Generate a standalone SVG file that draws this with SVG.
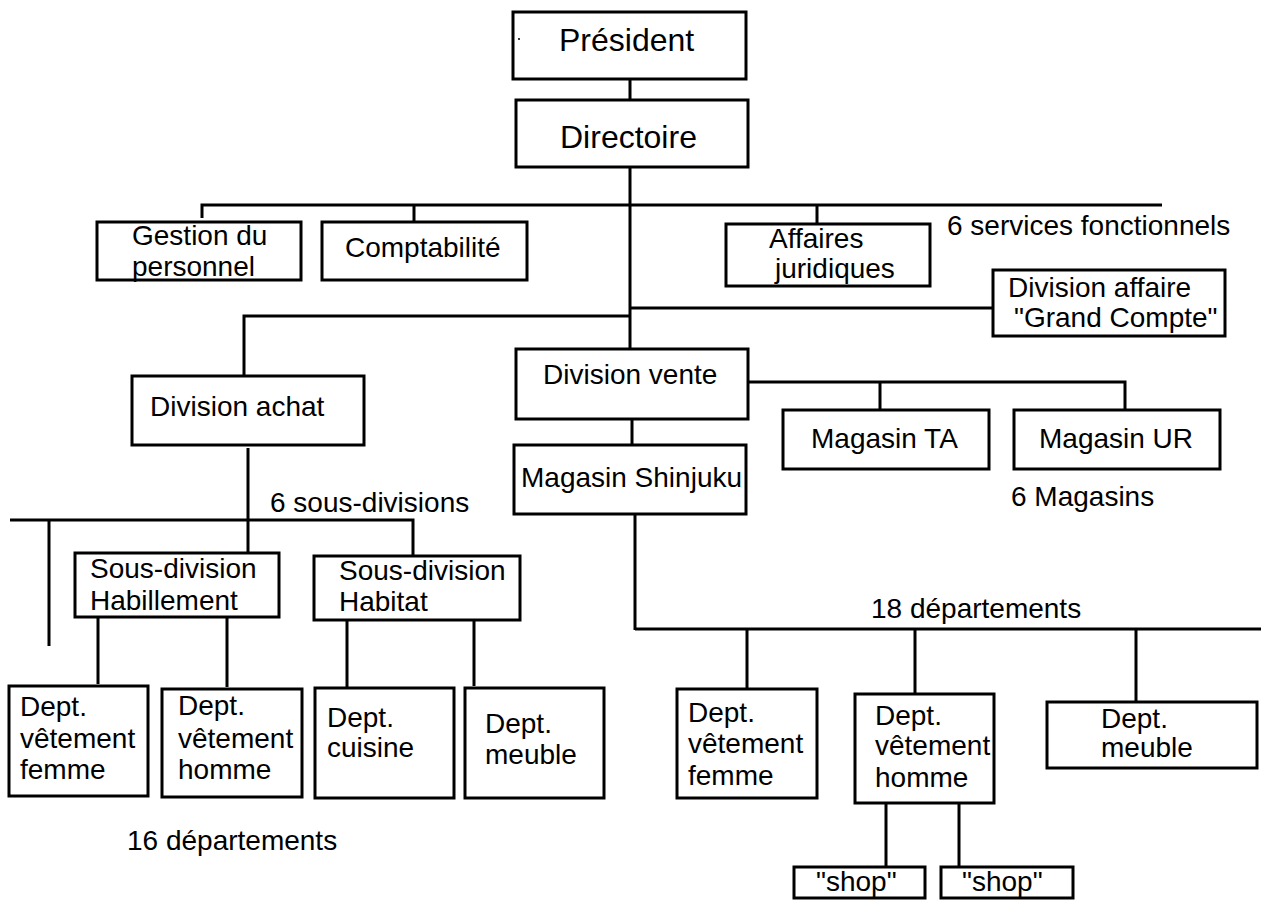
<svg xmlns="http://www.w3.org/2000/svg" width="1261" height="900" viewBox="0 0 1261 900">
<style>
.b{fill:#fff;stroke:#000;stroke-width:3}
.l{stroke:#000;stroke-width:3;fill:none}
text{font-family:"Liberation Sans",Arial,sans-serif;font-size:28px;fill:#000}
.big{font-size:32px}
</style>
<rect width="1261" height="900" fill="#fff"/>
<g id="connectors">
<path class="l" d="M630 79V100M630 167V349"/>
<path class="l" d="M202 218V205H1162M414 205V222M817 205V224"/>
<path class="l" d="M630 308H993M244 378V316H630"/>
<path class="l" d="M748 382H1125V410M880 382V410M632 419V446"/>
<path class="l" d="M248 448V553M10 520H413V556M49 520V646"/>
<path class="l" d="M98 614V684M227 614V687M347 618V688M474 615V686"/>
<path class="l" d="M635 514V630M635 629H1261M747 629V689M915 629V694M1136 629V702"/>
<path class="l" d="M886 803V867M959 803V867"/>
</g>
<g id="president"><rect class="b" x="513" y="12" width="233" height="67"/><circle cx="519" cy="39" r="1" fill="#000"/><text class="big" x="559" y="51">Président</text></g>
<g id="directoire"><rect class="b" x="516" y="100" width="232" height="67"/><text class="big" x="560" y="148">Directoire</text></g>
<g id="gestion"><rect class="b" x="97" y="222" width="204" height="58"/><text x="132" y="245">Gestion du</text><text x="132" y="276">personnel</text></g>
<g id="comptabilite"><rect class="b" x="322" y="222" width="205" height="58"/><text x="345" y="257">Comptabilité</text></g>
<g id="affaires"><rect class="b" x="726" y="224" width="204" height="62"/><text x="769" y="248">Affaires</text><text x="775" y="278">juridiques</text></g>
<g id="services-label"><text x="947" y="235">6 services fonctionnels</text></g>
<g id="grand-compte"><rect class="b" x="993" y="270" width="232" height="66"/><text x="1008" y="297">Division affaire</text><text x="1014" y="327">"Grand Compte"</text></g>
<g id="achat"><rect class="b" x="132" y="376" width="232" height="69"/><text x="150" y="416">Division achat</text></g>
<g id="vente"><rect class="b" x="516" y="349" width="232" height="70"/><text x="543" y="384">Division vente</text></g>
<g id="magasin-ta"><rect class="b" x="783" y="410" width="206" height="59"/><text x="811" y="448">Magasin TA</text></g>
<g id="magasin-ur"><rect class="b" x="1014" y="410" width="206" height="59"/><text x="1039" y="448">Magasin UR</text></g>
<g id="magasins-label"><text x="1011" y="506">6 Magasins</text></g>
<g id="shinjuku"><rect class="b" x="514" y="445" width="232" height="69"/><text x="521" y="487">Magasin Shinjuku</text></g>
<g id="sousdiv-label"><text x="270" y="512">6 sous-divisions</text></g>
<g id="habillement"><rect class="b" x="75" y="553" width="204" height="64"/><text x="90" y="578">Sous-division</text><text x="90" y="610">Habillement</text></g>
<g id="habitat"><rect class="b" x="314" y="556" width="206" height="64"/><text x="339" y="580">Sous-division</text><text x="339" y="611">Habitat</text></g>
<g id="dept-label-18"><text x="871" y="618">18 départements</text></g>
<g id="d1"><rect class="b" x="9" y="686" width="139" height="110"/><text x="20" y="716">Dept.</text><text x="20" y="748">vêtement</text><text x="20" y="779">femme</text></g>
<g id="d2"><rect class="b" x="162" y="689" width="140" height="108"/><text x="178" y="715">Dept.</text><text x="178" y="748">vêtement</text><text x="178" y="779">homme</text></g>
<g id="d3"><rect class="b" x="315" y="688" width="139" height="110"/><text x="327" y="727">Dept.</text><text x="327" y="757">cuisine</text></g>
<g id="d4"><rect class="b" x="465" y="688" width="139" height="110"/><text x="485" y="733">Dept.</text><text x="485" y="764">meuble</text></g>
<g id="dept-label-16"><text x="127" y="850">16 départements</text></g>
<g id="d5"><rect class="b" x="677" y="689" width="140" height="109"/><text x="688" y="722">Dept.</text><text x="688" y="753">vêtement</text><text x="688" y="785">femme</text></g>
<g id="d6"><rect class="b" x="855" y="694" width="139" height="109"/><text x="875" y="725">Dept.</text><text x="875" y="755">vêtement</text><text x="875" y="787">homme</text></g>
<g id="d7"><rect class="b" x="1047" y="702" width="210" height="66"/><text x="1101" y="728">Dept.</text><text x="1101" y="757">meuble</text></g>
<g id="shop1"><rect class="b" x="794" y="867" width="131" height="31"/><text x="816" y="891">"shop"</text></g>
<g id="shop2"><rect class="b" x="941" y="867" width="132" height="31"/><text x="962" y="891">"shop"</text></g>
</svg>
